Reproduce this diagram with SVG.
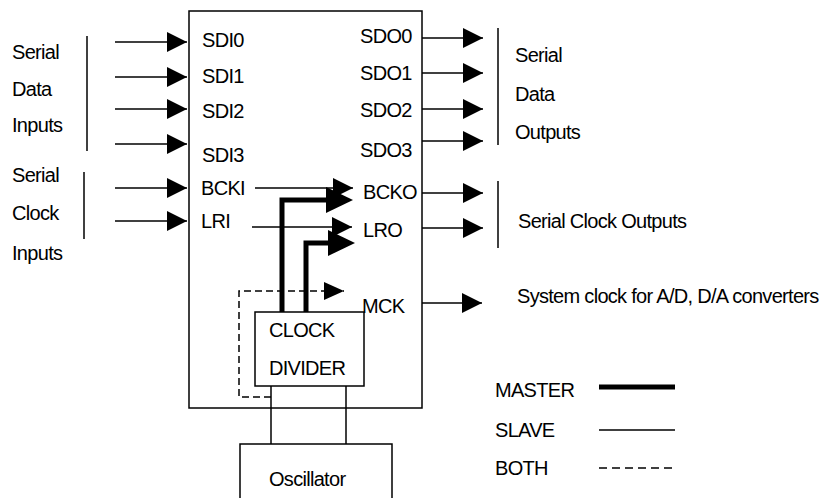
<svg xmlns="http://www.w3.org/2000/svg" width="825" height="498" viewBox="0 0 825 498">
<defs>
<style>
text{font-family:"Liberation Sans",Arial,sans-serif;font-size:20px;letter-spacing:-0.7px;fill:#000}
.ln{stroke:#000;stroke-width:1.5;fill:none}
.thick{stroke:#000;stroke-width:5;fill:none}
.dash{stroke:#000;stroke-width:1.5;fill:none;stroke-dasharray:7,4}
.box{stroke:#000;stroke-width:1.5;fill:#fff}
</style>
<marker id="ah" markerUnits="userSpaceOnUse" markerWidth="20" markerHeight="20" refX="20" refY="10" orient="auto">
<path d="M0,0 L20,10 L0,20 z" fill="#000"/>
</marker>
<marker id="ahd" markerUnits="userSpaceOnUse" markerWidth="20" markerHeight="18" refX="20" refY="9" orient="auto">
<path d="M0,0 L20,9 L0,18 z" fill="#000"/>
</marker>
<marker id="aht" markerUnits="userSpaceOnUse" markerWidth="27" markerHeight="26" refX="4" refY="13" orient="auto">
<path d="M0,0 L27,13 L0,26 z" fill="#000"/>
</marker>
</defs>

<g id="main-block">
<rect class="box" x="189" y="11" width="233" height="397"/>
<text x="202" y="47">SDI0</text>
<text x="202" y="83">SDI1</text>
<text x="202" y="118">SDI2</text>
<text x="202" y="162">SDI3</text>
<text x="201" y="195">BCKI</text>
<text x="201" y="228">LRI</text>
<text x="360" y="43">SDO0</text>
<text x="360" y="80">SDO1</text>
<text x="360" y="117">SDO2</text>
<text x="360" y="157">SDO3</text>
<text x="363" y="199">BCKO</text>
<text x="363" y="237">LRO</text>
<text x="362" y="313">MCK</text>
</g>

<g id="clock-divider">
<rect class="box" x="255" y="312" width="109" height="74"/>
<text x="269" y="337">CLOCK</text>
<text x="269" y="375">DIVIDER</text>
</g>

<g id="oscillator">
<path class="ln" d="M240,500 V444 H392 V500"/>
<text x="269" y="486">Oscillator</text>
</g>

<g id="input-labels">
<line class="ln" x1="87" y1="36" x2="87" y2="151"/>
<line class="ln" x1="84" y1="172" x2="84" y2="239"/>
<text x="12" y="59">Serial</text>
<text x="12" y="96">Data</text>
<text x="12" y="132">Inputs</text>
<text x="12" y="182">Serial</text>
<text x="12" y="220">Clock</text>
<text x="12" y="260">Inputs</text>
</g>

<g id="output-labels">
<line class="ln" x1="498" y1="28" x2="498" y2="145"/>
<line class="ln" x1="498" y1="181" x2="498" y2="248"/>
<text x="515" y="62">Serial</text>
<text x="515" y="101">Data</text>
<text x="515" y="139">Outputs</text>
<text x="518" y="228">Serial Clock Outputs</text>
<text x="517" y="303">System clock for A/D, D/A converters</text>
</g>

<g id="legend">
<text x="495" y="397">MASTER</text>
<text x="495" y="437">SLAVE</text>
<text x="495" y="475">BOTH</text>
<line class="thick" x1="599" y1="387" x2="675" y2="387"/>
<line class="ln" x1="599" y1="430" x2="675" y2="430"/>
<line class="dash" x1="599" y1="468" x2="675" y2="468" style="stroke-dasharray:8,5"/>
</g>

<g id="connectors">
<line class="ln" x1="115" y1="42" x2="187" y2="42" marker-end="url(#ah)"/>
<line class="ln" x1="115" y1="77" x2="187" y2="77" marker-end="url(#ah)"/>
<line class="ln" x1="115" y1="109" x2="187" y2="109" marker-end="url(#ah)"/>
<line class="ln" x1="115" y1="144" x2="187" y2="144" marker-end="url(#ah)"/>
<line class="ln" x1="115" y1="188" x2="187" y2="188" marker-end="url(#ah)"/>
<line class="ln" x1="115" y1="221" x2="187" y2="221" marker-end="url(#ah)"/>

<line class="ln" x1="422" y1="38" x2="483" y2="38" marker-end="url(#ah)"/>
<line class="ln" x1="422" y1="73" x2="483" y2="73" marker-end="url(#ah)"/>
<line class="ln" x1="422" y1="109" x2="483" y2="109" marker-end="url(#ah)"/>
<line class="ln" x1="422" y1="141" x2="483" y2="141" marker-end="url(#ah)"/>
<line class="ln" x1="422" y1="193" x2="483" y2="193" marker-end="url(#ah)"/>
<line class="ln" x1="422" y1="228" x2="483" y2="228" marker-end="url(#ah)"/>
<line class="ln" x1="422" y1="303" x2="482" y2="303" marker-end="url(#ah)"/>

<line class="ln" x1="255" y1="188" x2="353" y2="188" marker-end="url(#ah)"/>
<line class="ln" x1="252" y1="227" x2="352" y2="227" marker-end="url(#ah)"/>

<path class="thick" d="M282,312 V200 H330" marker-end="url(#aht)"/>
<path class="thick" d="M306,312 V243 H332" marker-end="url(#aht)"/>

<path class="dash" d="M271,397 H239 V291 H344" marker-end="url(#ahd)"/>

<line class="ln" x1="271" y1="386" x2="271" y2="444"/>
<line class="ln" x1="346" y1="386" x2="346" y2="444"/>
</g>
</svg>
